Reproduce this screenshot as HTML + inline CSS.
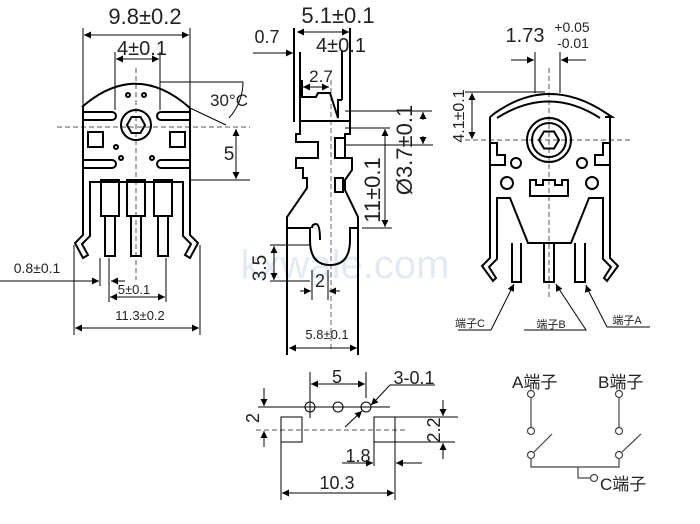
<!DOCTYPE html>
<html><head><meta charset="utf-8"><style>
html,body{margin:0;padding:0;background:#fff;}
svg{display:block;}
text{font-family:"Liberation Sans","Noto Sans CJK SC",sans-serif;fill:#222;}
</style></head><body>
<svg width="700" height="524" viewBox="0 0 700 524" xmlns="http://www.w3.org/2000/svg">
<defs>
<marker id="a" viewBox="0 0 10 10" refX="10" refY="5" markerWidth="9" markerHeight="7" orient="auto-start-reverse" markerUnits="userSpaceOnUse"><path d="M0,0L10,5L0,10z" fill="#000"/></marker>
</defs>
<text x="345" y="278" font-size="40" style="fill:#e3eaf3" text-anchor="middle">kxwale.com</text>

<!-- LEFT VIEW -->
<g stroke="#000" fill="none" stroke-width="1">
<line x1="83" y1="28" x2="83" y2="108"/><line x1="190" y1="28" x2="190" y2="110"/>
<line x1="84" y1="35" x2="189" y2="35" marker-start="url(#a)" marker-end="url(#a)"/>
<line x1="115" y1="52" x2="115" y2="110"/><line x1="160" y1="52" x2="160" y2="110"/>
<line x1="116" y1="59" x2="159" y2="59" marker-start="url(#a)" marker-end="url(#a)"/>
<line x1="136" y1="68" x2="136" y2="280" stroke-dasharray="5,3" stroke="#555"/>
<line x1="57" y1="127" x2="250" y2="127" stroke-dasharray="5,3" stroke="#555"/>
<line x1="160" y1="82" x2="243" y2="82"/>
<line x1="190" y1="108" x2="226" y2="125"/>
<path d="M243,82 A55,55 0 0 1 229,118" />
<line x1="190" y1="180" x2="250" y2="180"/>
<line x1="236" y1="129" x2="236" y2="179" marker-start="url(#a)" marker-end="url(#a)"/>
<line x1="74" y1="245" x2="74" y2="335"/><line x1="200" y1="245" x2="200" y2="335"/>
<line x1="75" y1="328" x2="199" y2="328" marker-start="url(#a)" marker-end="url(#a)"/>
<line x1="109" y1="258" x2="109" y2="302"/><line x1="166" y1="258" x2="166" y2="302"/>
<line x1="110" y1="297" x2="165" y2="297" marker-start="url(#a)" marker-end="url(#a)"/>
<line x1="0" y1="281" x2="99" y2="281" marker-end="url(#a)"/>
<line x1="125" y1="281" x2="111" y2="281" marker-end="url(#a)"/>
<line x1="100" y1="258" x2="100" y2="286"/>
</g>
<g stroke="#000" fill="none" stroke-width="2">
<path d="M82,107 Q136,60 190,108"/>
<path d="M83,107 V235 L75,243 L83,258 L88,255 L82,244 L90,236 V182 H183 V236 L191,244 L185,255 L190,258 L198,243 L190,235 V108"/>
<rect x="101" y="180" width="18" height="36"/><rect x="105" y="216" width="10" height="40"/>
<rect x="127" y="180" width="18" height="36"/><rect x="131" y="216" width="10" height="40"/>
<rect x="154" y="180" width="18" height="36"/><rect x="158" y="216" width="10" height="40"/>
<circle cx="136" cy="125" r="15"/>
<path d="M127,125 L131.5,117 L140.5,117 L145,125 L140.5,133 L131.5,133Z"/>
<path d="M83,112 H112 a3,3 0 0 1 0,8 H83"/><path d="M190,112 H161 a3,3 0 0 0 0,8 H190"/>
<path d="M83,160 H112 a3,3 0 0 1 0,8 H83"/><path d="M190,160 H161 a3,3 0 0 0 0,8 H190"/>
<rect x="88" y="132" width="15" height="15"/><rect x="170" y="132" width="15" height="15"/>
<circle cx="128" cy="95" r="2"/><circle cx="144" cy="95" r="2"/>
<circle cx="116" cy="147" r="2"/><circle cx="121" cy="158" r="2"/><circle cx="152" cy="158" r="2"/>
</g>
<text x="145" y="24" font-size="22" text-anchor="middle">9.8±0.2</text>
<text x="142" y="55" font-size="20" text-anchor="middle">4±0.1</text>
<text x="210" y="106" font-size="17">30°C</text>
<text x="229" y="160" font-size="19" text-anchor="middle">5</text>
<text x="37" y="273" font-size="14" text-anchor="middle">0.8±0.1</text>
<text x="134" y="294" font-size="13" text-anchor="middle">5±0.1</text>
<text x="140" y="320" font-size="13" text-anchor="middle">11.3±0.2</text>

<!-- MIDDLE SIDE VIEW -->
<g stroke="#000" fill="none" stroke-width="1">
<line x1="297" y1="32" x2="349" y2="32" marker-start="url(#a)" marker-end="url(#a)"/>
<line x1="253" y1="53" x2="293" y2="53" marker-end="url(#a)"/>
<line x1="303" y1="87" x2="329" y2="87" marker-start="url(#a)" marker-end="url(#a)"/>
<line x1="331" y1="80" x2="331" y2="350" stroke-dasharray="5,3" stroke="#666"/>
<line x1="345" y1="111" x2="432" y2="111"/><line x1="345" y1="128" x2="390" y2="128"/><line x1="345" y1="145" x2="433" y2="145"/>
<line x1="423" y1="120" x2="423" y2="112" marker-end="url(#a)"/><line x1="423" y1="136" x2="423" y2="144" marker-end="url(#a)"/>
<line x1="385" y1="129" x2="385" y2="227" marker-start="url(#a)" marker-end="url(#a)"/>
<line x1="362" y1="228" x2="392" y2="228"/>
<line x1="270" y1="245" x2="310" y2="245"/><line x1="270" y1="281" x2="310" y2="281"/>
<line x1="274" y1="246" x2="274" y2="280" marker-start="url(#a)" marker-end="url(#a)"/>
<line x1="300" y1="291" x2="311" y2="291" marker-end="url(#a)"/><line x1="340" y1="291" x2="329" y2="291" marker-end="url(#a)"/>
<line x1="312" y1="270" x2="312" y2="300"/><line x1="328" y1="270" x2="328" y2="300"/>
<line x1="289" y1="348" x2="357" y2="348" marker-start="url(#a)" marker-end="url(#a)"/>
</g>
<g stroke="#000" fill="none" stroke-width="2">
<line x1="294" y1="28" x2="294" y2="122"/><line x1="300" y1="52" x2="300" y2="121"/>
<line x1="350" y1="28" x2="350" y2="121"/><line x1="342" y1="50" x2="342" y2="100"/>
<path d="M302,80 V97 H316 L318,93 H330 L338,118 V100 H342"/>
<path d="M300,121 H340 V121"/>
<path d="M300,121 V134 H296 V142 H318 V158 H296 V168 H303 V178 H307 V188 L287,217 V355"/>
<path d="M340,121 H350 V134 H345 V158 H352 V170 L345,180 V190 L358,217 V355"/>
<rect x="335" y="138" width="10" height="20"/><rect x="335" y="178" width="8" height="14"/>
<path d="M287,228 H310 V240 Q310,265 330,265 Q350,265 350,240 V228 H358"/>
<path d="M312,228 Q312,224 316,224 Q320,224 320,240"/>
</g>
<text x="338" y="23" font-size="22" text-anchor="middle">5.1±0.1</text>
<text x="267" y="43" font-size="18" text-anchor="middle">0.7</text>
<text x="341" y="52" font-size="20" text-anchor="middle">4±0.1</text>
<text x="321" y="82" font-size="17" text-anchor="middle">2.7</text>
<text font-size="22" text-anchor="middle" transform="translate(412,150) rotate(-90)">Ø3.7±0.1</text>
<text font-size="22" text-anchor="middle" transform="translate(380,190) rotate(-90)">11±0.1</text>
<text font-size="19" text-anchor="middle" transform="translate(266,268) rotate(-90)">3.5</text>
<text x="320" y="287" font-size="18" text-anchor="middle">2</text>
<text x="327" y="339" font-size="13" text-anchor="middle">5.8±0.1</text>

<!-- RIGHT VIEW -->
<g stroke="#000" fill="none" stroke-width="1">
<line x1="535" y1="52" x2="535" y2="93"/><line x1="560" y1="52" x2="560" y2="93"/>
<line x1="511" y1="60" x2="534" y2="60" marker-end="url(#a)"/><line x1="586" y1="60" x2="561" y2="60" marker-end="url(#a)"/>
<line x1="549" y1="68" x2="549" y2="300" stroke-dasharray="5,3" stroke="#555"/>
<line x1="465" y1="92" x2="545" y2="92"/>
<line x1="465" y1="140" x2="630" y2="140" stroke-dasharray="5,3" stroke="#555"/>
<line x1="472" y1="93" x2="472" y2="139" marker-start="url(#a)" marker-end="url(#a)"/>
<path d="M491,330 H458 M491,330 L513,286" /><line x1="513" y1="286" x2="514" y2="284" marker-end="url(#a)"/>
<path d="M524,330 H586 L557,286"/><line x1="557" y1="286" x2="556" y2="284" marker-end="url(#a)"/>
<path d="M650,327 H607 L587,288"/><line x1="587" y1="288" x2="586" y2="285" marker-end="url(#a)"/>
</g>
<g stroke="#000" fill="none" stroke-width="2">
<path d="M490,117 L495,113 Q549,75 606,113 L612,117 H605"/>
<path d="M497,118 Q549,85 600,118"/>
<path d="M490,117 V258 L482,266 L493,281 L496,278 L489,267 L497,259 V198 H510 L528,243 H571 L589,198 H603 V259 L611,267 L604,278 L607,281 L618,266 L610,258 V117"/>
<path d="M512,243 V282 H521 V243"/><path d="M544,243 V282 H554 V243"/><path d="M575,243 V282 H585 V243"/>
<circle cx="549" cy="140" r="22"/><circle cx="549" cy="140" r="17"/>
<path d="M539,140 L544,131.5 L554,131.5 L559,140 L554,148.5 L544,148.5Z"/>
<circle cx="516" cy="163" r="5"/><circle cx="582" cy="163" r="5"/>
<circle cx="507" cy="183" r="6"/><circle cx="592" cy="183" r="6"/>
<path d="M530,180 H536 V185 H543 V180 H555 V185 H562 V180 H568 V196 H530Z"/>
<path d="M490,143 H497 V155 H505 V165 H490"/><path d="M610,143 H603 V155 H595 V165 H610"/>
</g>
<text x="525" y="42" font-size="20" text-anchor="middle">1.73</text>
<text x="572" y="32" font-size="14" text-anchor="middle">+0.05</text>
<text x="573" y="48" font-size="14" text-anchor="middle">-0.01</text>
<text font-size="16" text-anchor="middle" transform="translate(464,116) rotate(-90)">4.1±0.1</text>
<text x="470" y="327" font-size="11" text-anchor="middle">端子C</text>
<text x="551" y="328" font-size="11" text-anchor="middle">端子B</text>
<text x="627" y="324" font-size="11" text-anchor="middle">端子A</text>

<!-- BOTTOM FOOTPRINT -->
<g stroke="#000" fill="none" stroke-width="1">
<line x1="310" y1="372" x2="310" y2="418"/><line x1="366" y1="372" x2="366" y2="398"/>
<line x1="311" y1="384" x2="365" y2="384" marker-start="url(#a)" marker-end="url(#a)"/>
<path d="M435,385 H390 L373,403"/><line x1="376" y1="400" x2="371" y2="405" marker-end="url(#a)"/>
<line x1="345" y1="427" x2="362" y2="411" marker-end="url(#a)"/>
<line x1="258" y1="407" x2="390" y2="407"/>
<circle cx="310" cy="407" r="5"/><circle cx="338" cy="407" r="5"/><circle cx="366" cy="407" r="5"/>
<line x1="256" y1="430" x2="407" y2="430" stroke-dasharray="5,3" stroke="#555"/>
<line x1="264" y1="388" x2="264" y2="406" marker-end="url(#a)"/><line x1="264" y1="447" x2="264" y2="431" marker-end="url(#a)"/>
<rect x="281" y="417" width="21" height="25"/><rect x="374" y="417" width="21" height="25"/>
<line x1="395" y1="417" x2="458" y2="417"/><line x1="395" y1="442" x2="455" y2="442"/>
<line x1="443" y1="400" x2="443" y2="416" marker-end="url(#a)"/><line x1="443" y1="459" x2="443" y2="443" marker-end="url(#a)"/>
<line x1="342" y1="463" x2="373" y2="463" marker-end="url(#a)"/><line x1="422" y1="463" x2="396" y2="463" marker-end="url(#a)"/>
<line x1="281" y1="442" x2="281" y2="500"/><line x1="395" y1="442" x2="395" y2="500"/><line x1="374" y1="442" x2="374" y2="466"/>
<line x1="282" y1="493" x2="394" y2="493" marker-start="url(#a)" marker-end="url(#a)"/>
</g>
<text x="337" y="383" font-size="18" text-anchor="middle">5</text>
<text x="414" y="384" font-size="18" text-anchor="middle">3-0.1</text>
<text font-size="18" text-anchor="middle" transform="translate(259,418) rotate(-90)">2</text>
<text font-size="18" text-anchor="middle" transform="translate(440,430) rotate(-90)">2.2</text>
<text x="358" y="462" font-size="18" text-anchor="middle">1.8</text>
<text x="337" y="489" font-size="18" text-anchor="middle">10.3</text>

<!-- SCHEMATIC -->
<g stroke="#444" fill="#fff" stroke-width="1.2">
<line x1="531" y1="398" x2="531" y2="427"/><line x1="619" y1="398" x2="619" y2="427"/>
<line x1="534" y1="452" x2="552" y2="434"/><line x1="622" y1="452" x2="641" y2="434"/>
<path d="M531,459 V467 H619 V459 M578,467 V478 H590" fill="none"/>
<circle cx="531" cy="394" r="3.5"/><circle cx="531" cy="431" r="3.5"/>
<circle cx="619" cy="394" r="3.5"/><circle cx="619" cy="431" r="3.5"/>
<circle cx="531" cy="455" r="3.5"/><circle cx="619" cy="455" r="3.5"/>
<circle cx="594" cy="478" r="3.5"/>
</g>
<text x="512" y="388" font-size="17">A端子</text>
<text x="598" y="388" font-size="17">B端子</text>
<text x="600" y="490" font-size="17">C端子</text>
</svg>
</body></html>
